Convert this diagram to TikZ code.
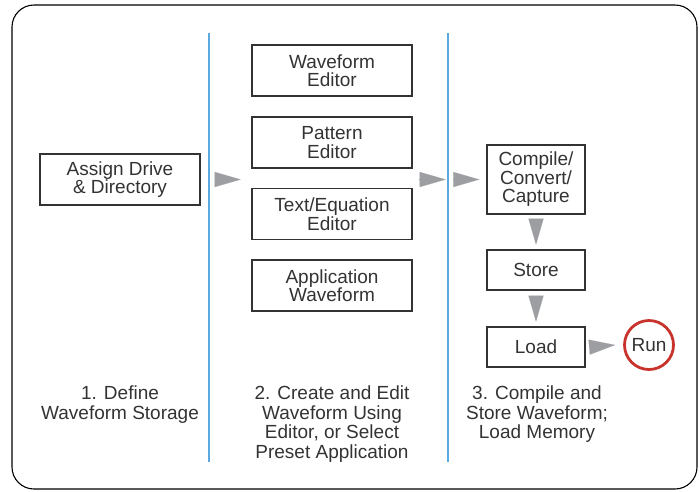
\documentclass[tikz,border=0pt]{standalone}
\usepackage{fontspec}
\setmainfont{Liberation Sans}
\usetikzlibrary{arrows.meta,positioning}
\definecolor{inkgray}{HTML}{333333}
\definecolor{tipgray}{HTML}{9C9EA2}
\definecolor{sepblue}{HTML}{5BA9E0}
\definecolor{runred}{HTML}{C8332B}
\begin{document}
\begin{tikzpicture}[x=1pt,y=-1pt,
    box/.style={draw=inkgray,line width=1.4pt,align=center,inner sep=0pt,text=inkgray,font=\fontsize{19}{18.5}\selectfont},
    wide/.style={box,minimum width=160pt,minimum height=51pt},
    narrow/.style={box,minimum width=98pt,minimum height=40pt},
    lbl/.style={align=center,inner sep=0pt,anchor=north,text=inkgray,font=\fontsize{19}{19.5}\selectfont},
    tri/.style={draw=tipgray,line width=0.1pt,-{Triangle[length=26pt,width=15pt,fill=tipgray]}},
    sep/.style={draw=sepblue,line width=1.8pt}]
  \useasboundingbox (0,0) rectangle (700,491);
  \draw[line width=1.1pt,rounded corners=22pt] (12,5) rectangle (697,489);

  % separators
  \coordinate (s1t) at (209,33);  \coordinate (s1b) at (209,462);
  \coordinate (s2t) at (448,33);  \coordinate (s2b) at (448,462);
  \draw[sep] (s1t) -- (s1b);
  \draw[sep] (s2t) -- (s2b);

  % step 1
  \node[wide] (assign) at (120,179.5) {Assign Drive\\\& Directory};
  \node[lbl] (def) at (120,386) {1. Define\\Waveform Storage};

  % step 2
  \node[wide] (wave) at (332,70.5) {Waveform\\Editor};
  \node[wide] (pat) at (332,142.5) {Pattern\\Editor};
  \node[wide] (txt) at (332,214) {Text/Equation\\Editor};
  \node[wide] (app) at (332,285.5) {Application\\Waveform};
  \node[lbl] (create) at (332,386) {2. Create and Edit\\Waveform Using\\Editor, or Select\\Preset Application};

  % step 3
  \node[narrow,minimum height=69pt] (comp) at (536,179.5) {Compile/\\Convert/\\Capture};
  \node[narrow] (store) at (536,270) {Store};
  \node[narrow] (load) at (536,347) {Load};
  \node[draw=runred,line width=2.8pt,circle,minimum size=49pt,inner sep=0pt,text=inkgray,
        font=\fontsize{19}{18.5}\selectfont] (run) at (649,345) {Run};
  \node[lbl] (memo) at (537,386) {3. Compile and\\Store Waveform;\\Load Memory};

  % arrows
  \draw[tri] ([xshift=14pt]assign.east) -- ([xshift=40pt]assign.east);
  \draw[tri] ([xshift=6pt]pat.east |- assign.east) -- ([xshift=33pt]pat.east |- assign.east);
  \draw[tri] ([xshift=-33pt]comp.west) -- ([xshift=-7pt]comp.west);
  \draw[tri] ([yshift=-4pt]comp.south) -- ([yshift=-30pt]comp.south);
  \draw[tri] ([yshift=-5pt]store.south) -- ([yshift=-31pt]store.south);
  \draw[tri] ([xshift=5pt]load.east) -- ([xshift=-8pt]run.west);
\end{tikzpicture}
\end{document}
